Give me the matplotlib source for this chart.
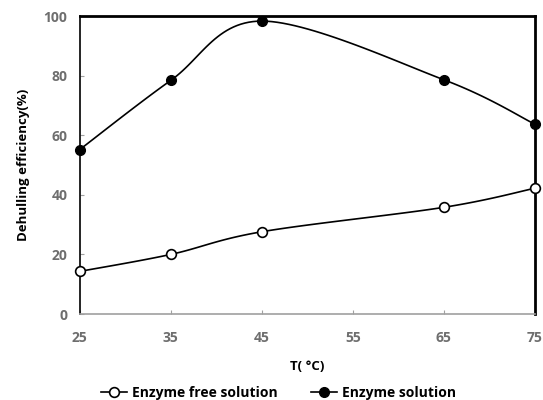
import matplotlib.pyplot as plt
import numpy as np

temps = [25, 35, 45, 65, 75]
enzyme_free = [14.3, 20.0, 27.6, 35.8, 42.2]
enzyme_sol = [55.2, 78.4, 98.3, 78.6, 63.7]
x_ticks = [25, 35, 45, 55, 65, 75]
y_ticks = [0, 20, 40, 60, 80, 100]


def smooth(x, y, n=30):
    # Catmull-Rom style smoothing similar to Excel's "smoothed line"
    x = np.asarray(x, float)
    y = np.asarray(y, float)
    px = np.concatenate([[x[0]], x, [x[-1]]])
    py = np.concatenate([[y[0]], y, [y[-1]]])
    xs, ys = [], []
    for i in range(1, len(px) - 2):
        p0, p1, p2, p3 = (np.array([px[j], py[j]]) for j in (i - 1, i, i + 1, i + 2))
        c1 = p1 + (p2 - p0) / 6
        c2 = p2 - (p3 - p1) / 6
        t = np.linspace(0, 1, n)[:, None]
        b = (1 - t) ** 3 * p1 + 3 * (1 - t) ** 2 * t * c1 + 3 * (1 - t) * t ** 2 * c2 + t ** 3 * p2
        xs.extend(b[:, 0])
        ys.extend(b[:, 1])
    return xs, ys


plt.rcParams['font.family'] = ['Open Sans', 'DejaVu Sans']
fig = plt.figure(figsize=(5.43, 4.0), dpi=100)
ax = fig.add_axes([0.147, 0.215, 0.838, 0.745])

sx, sy = smooth(temps, enzyme_free)
ax.plot(sx, sy, color='black', lw=1.2, zorder=2)
ax.plot(temps, enzyme_free, 'o', ms=7, mfc='white', mec='black', mew=1.2, clip_on=False, zorder=3)
sx, sy = smooth(temps, enzyme_sol)
ax.plot(sx, sy, color='black', lw=1.2, zorder=2)
ax.plot(temps, enzyme_sol, 'o', ms=7, mfc='black', mec='black', clip_on=False, zorder=3)

ax.set_xlim(25, 75)
ax.set_ylim(0, 100)
ax.set_xticks(x_ticks)
ax.set_yticks(y_ticks)
ax.tick_params(direction='in', length=3, color='#a0a0a0', labelcolor='#6e6e6e',
               labelsize=10)
for lab in ax.get_xticklabels() + ax.get_yticklabels():
    lab.set_fontweight('bold')
ax.tick_params(axis='x', pad=12)
ax.tick_params(axis='y', pad=9)

ax.spines['top'].set_linewidth(2)
ax.spines['right'].set_linewidth(2)
ax.spines['left'].set_linewidth(1.2)
ax.spines['bottom'].set_color('#a0a0a0')
ax.spines['bottom'].set_linewidth(1.2)

ax.set_xlabel('T( °C)', fontsize=9.5, fontweight='bold', labelpad=11)
ax.set_ylabel('Dehulling efficiency(%)', fontsize=9.5, fontweight='bold', labelpad=10)

h1, = ax.plot([], [], '-o', color='black', ms=7, mfc='white', mew=1.2, lw=1.2)
h2, = ax.plot([], [], '-o', color='black', ms=7, mfc='black', lw=1.2)
leg = fig.legend([h1, h2], ['Enzyme free solution', 'Enzyme solution'],
                 loc='center', bbox_to_anchor=(0.513, 0.018), ncol=2, frameon=False,
                 handlelength=1.9, columnspacing=2.4, handletextpad=0.35,
                 prop={'weight': 'bold', 'size': 10})

fig.savefig('out.png', dpi=100)
